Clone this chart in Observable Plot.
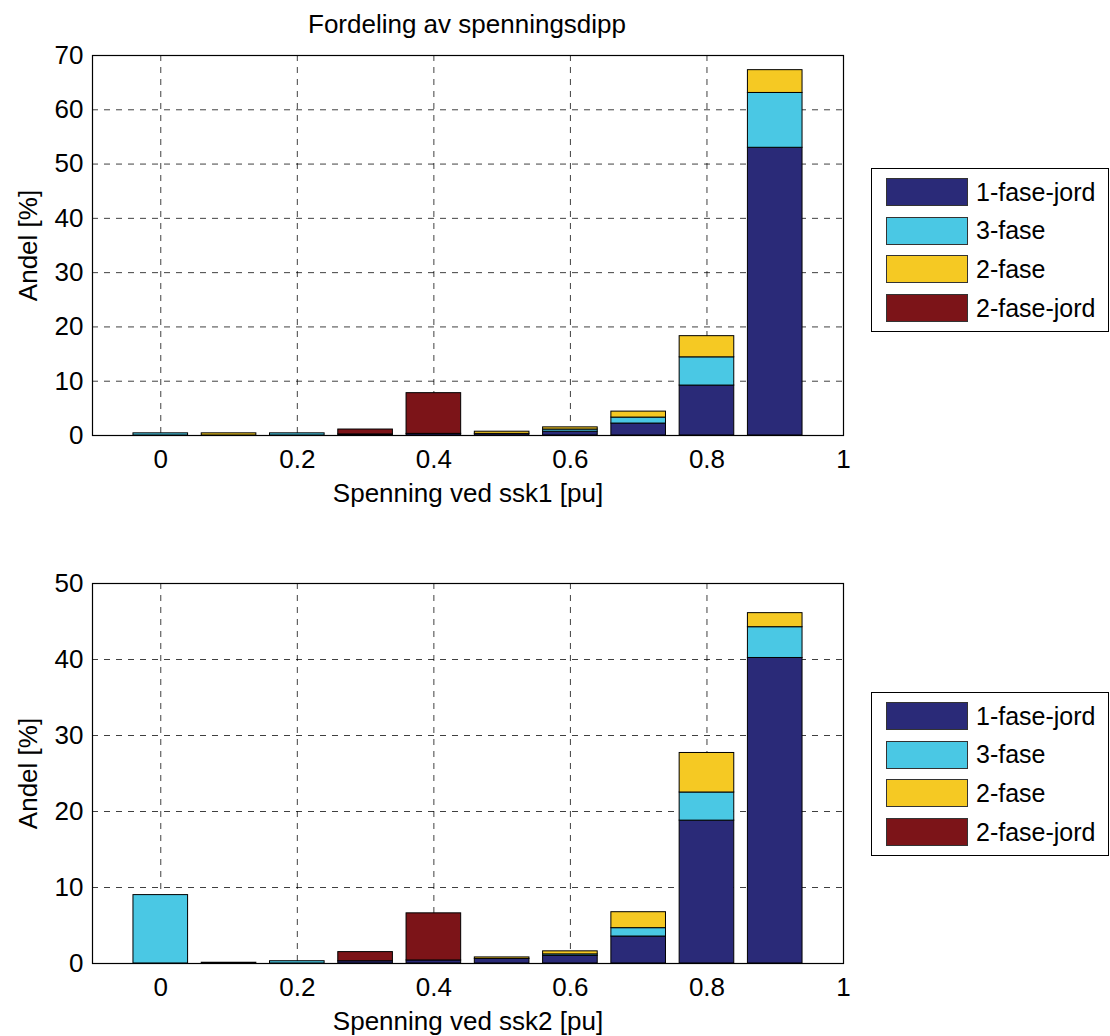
<!DOCTYPE html>
<html>
<head>
<meta charset="utf-8">
<script src="https://cdn.jsdelivr.net/npm/d3@7"></script>
<script src="https://cdn.jsdelivr.net/npm/@observablehq/plot@0.6"></script>
<style>
  html, body { margin: 0; padding: 0; background: #fff; }
  body { width: 1110px; height: 1036px; position: relative; overflow: hidden; font-family: "Liberation Sans", Arial, sans-serif; }
  .abs { position: absolute; }
  .title { font-size: 26px; line-height: 26px; color: #000; white-space: nowrap; transform: translateX(-50%); z-index: 5; }
  .legend { border: 1.3px solid #000; background: #fff; box-sizing: border-box; z-index: 5; }
  .row { position: absolute; left: 14px; height: 28px; display: flex; align-items: center; }
  .sw { width: 82px; height: 28px; border: 1px solid #333; box-sizing: border-box; margin-right: 8px; }
  .lt { font-size: 25px; color: #000; white-space: nowrap; }
</style>
</head>
<body>
<script>
// ---------- data ----------
const positions = [0, 0.1, 0.2, 0.3, 0.4, 0.5, 0.6, 0.7, 0.8, 0.9];
const seriesNames = ["1-fase-jord", "3-fase", "2-fase", "2-fase-jord"];
const seriesColors = ["#2a2a78", "#4ac8e4", "#f5c923", "#7c1418"];

const ssk1_faseJord1 = [0, 0, 0, 0.2, 0.3, 0.3, 0.7, 2.2, 9.2, 53.0];
const ssk1_fase3     = [0.4, 0, 0.4, 0, 0, 0, 0.4, 1.1, 5.2, 10.1];
const ssk1_fase2     = [0, 0.4, 0, 0, 0, 0.4, 0.4, 1.1, 3.9, 4.2];
const ssk1_faseJord2 = [0, 0, 0, 0.9, 7.5, 0, 0, 0, 0, 0];

const ssk2_faseJord1 = [0, 0.1, 0, 0.3, 0.4, 0.6, 1.0, 3.55, 18.8, 40.2];
const ssk2_fase3     = [9.0, 0, 0.3, 0, 0, 0, 0.2, 1.1, 3.7, 4.05];
const ssk2_fase2     = [0, 0, 0, 0, 0, 0.2, 0.4, 2.1, 5.2, 1.85];
const ssk2_faseJord2 = [0, 0, 0, 1.2, 6.2, 0, 0, 0, 0, 0];

const xTicks = [0, 0.2, 0.4, 0.6, 0.8, 1];
const titleText = "Fordeling av spenningsdipp";
const yLabel = "Andel [%]";
const xLabel1 = "Spenning ved ssk1 [pu]";
const xLabel2 = "Spenning ved ssk2 [pu]";
const barWidth = 0.08;

function toRows(arrs) {
  const rows = [];
  arrs.forEach((arr, si) => arr.forEach((v, i) => {
    if (v > 0) rows.push({pos: positions[i], value: v, series: seriesNames[si]});
  }));
  return rows;
}

function makePlot(rows, yMax, yStep, xLabel, height, marginTop, marginBottom) {
  const yTicks = d3.range(0, yMax + 0.001, yStep);
  return Plot.plot({
    width: 1110,
    height,
    marginLeft: 92,
    marginRight: 1110 - 843,
    marginTop,
    marginBottom,
    style: {fontSize: "26px", fontFamily: "'Liberation Sans', Arial, sans-serif", color: "#000", background: "transparent", overflow: "visible"},
    x: {domain: [-0.1, 1]},
    y: {domain: [0, yMax]},
    color: {domain: seriesNames, range: seriesColors},
    marks: [
      Plot.gridX(xTicks, {stroke: "#000", strokeOpacity: 0.75, strokeDasharray: "6,6", strokeWidth: 1}),
      Plot.gridY(yTicks, {stroke: "#000", strokeOpacity: 0.75, strokeDasharray: "6,6", strokeWidth: 1}),
      Plot.rectY(rows, Plot.stackY({
        x: "pos",
        x1: d => d.pos - barWidth / 2,
        x2: d => d.pos + barWidth / 2,
        y: "value",
        fill: "series",
        order: seriesNames,
        stroke: "#000",
        strokeWidth: 1
      })),
      Plot.frame({stroke: "#000", strokeWidth: 1.2}),
      Plot.axisX(xTicks, {tickSize: 0, tickPadding: 14, tickFormat: d => String(d), label: xLabel, labelAnchor: "center", labelArrow: "none", labelOffset: 66}),
      Plot.axisY(yTicks, {tickSize: 0, tickPadding: 9, label: yLabel, labelAnchor: "center", labelArrow: "none", labelOffset: 74})
    ]
  });
}

function addLegend(top) {
  const box = document.createElement("div");
  box.className = "abs legend";
  box.style.left = "871px";
  box.style.top = top + "px";
  box.style.width = "238px";
  box.style.height = "164px";
  seriesNames.forEach((name, i) => {
    const row = document.createElement("div");
    row.className = "row";
    row.style.top = (9 + i * 38.7) + "px";
    const sw = document.createElement("div");
    sw.className = "sw";
    sw.style.background = seriesColors[i];
    const t = document.createElement("span");
    t.className = "lt";
    t.textContent = name;
    row.appendChild(sw);
    row.appendChild(t);
    box.appendChild(row);
  });
  document.body.appendChild(box);
}

// plot 1
const p1 = makePlot(toRows([ssk1_faseJord1, ssk1_fase3, ssk1_fase2, ssk1_faseJord2]), 70, 10, xLabel1, 520, 55, 85);
p1.style.position = "absolute"; p1.style.left = "0px"; p1.style.top = "0px";
document.body.appendChild(p1);

// plot 2
const p2 = makePlot(toRows([ssk2_faseJord1, ssk2_fase3, ssk2_fase2, ssk2_faseJord2]), 50, 10, xLabel2, 516, 63, 73);
p2.style.position = "absolute"; p2.style.left = "0px"; p2.style.top = "520px";
document.body.appendChild(p2);

// title
const title = document.createElement("div");
title.className = "abs title";
title.style.left = "467px";
title.style.top = "11px";
title.textContent = titleText;
document.body.appendChild(title);

addLegend(168);
addLegend(692);
</script>
</body>
</html>
